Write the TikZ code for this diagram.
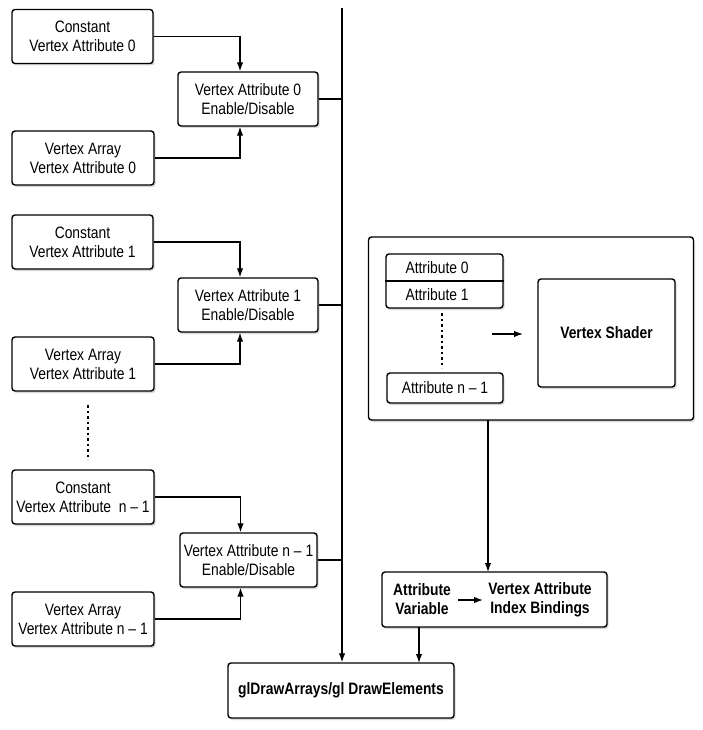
\documentclass[tikz,border=0pt]{standalone}
\usepackage{fontspec}
\setmainfont{Liberation Sans}[FakeStretch=0.84]
\usetikzlibrary{shadows,arrows.meta,calc}
\begin{document}
\begin{tikzpicture}[x=1pt,y=-1pt,
  every node/.style={font=\fontsize{16.5}{19}\selectfont},
  box/.style={draw, line width=1.4pt, rounded corners=3pt, fill=white, align=center, inner sep=0pt,
    drop shadow={opacity=0.3, shadow xshift=1.5pt, shadow yshift=-2pt}},
  conn/.style={line width=1.3pt},
  arr/.style={line width=1.3pt, -{Latex[length=9pt,width=6.5pt]}},
  dots/.style={line width=1.8pt, dash pattern=on 2.5pt off 3pt}]
\useasboundingbox (0,0) rectangle (703,730);
% left column
\node[box, minimum width=141, minimum height=54] (c0) at (82.5,36.5) {Constant\\Vertex Attribute 0};
\node[box, minimum width=140, minimum height=54] (e0) at (248,99) {Vertex Attribute 0\\Enable/Disable};
\node[box, minimum width=142, minimum height=54] (v0) at (83,158) {Vertex Array\\Vertex Attribute 0};
\node[box, minimum width=141, minimum height=54] (c1) at (82.5,242) {Constant\\Vertex Attribute 1};
\node[box, minimum width=140, minimum height=54] (e1) at (248,305) {Vertex Attribute 1\\Enable/Disable};
\node[box, minimum width=142, minimum height=54] (v1) at (83,364) {Vertex Array\\Vertex Attribute 1};
\node[box, minimum width=142, minimum height=54] (cn) at (83,497) {Constant\\Vertex Attribute\ \ n -- 1};
\node[box, minimum width=137, minimum height=54] (en) at (248.5,560) {Vertex Attribute n -- 1\\Enable/Disable};
\node[box, minimum width=142, minimum height=54] (vn) at (83,619) {Vertex Array\\Vertex Attribute n -- 1};
% bottom
\node[box, minimum width=226, minimum height=55, font=\fontsize{16.5}{19}\selectfont\bfseries] (gl) at (341,690.5) {glDrawArrays/gl DrawElements};
% right big box
\node[box, minimum width=325, minimum height=183] (big) at (531,328.5) {};
\node[box, minimum width=117, minimum height=54] (stack) at (444.5,281) {};
\draw[line width=1.4pt] (stack.west) -- (stack.east);
\node[anchor=west] (a0) at (402,268) {Attribute 0};
\node[anchor=west] (a1) at (402,295) {Attribute 1};
\node[box, minimum width=116, minimum height=30] (an) at (445,388) {Attribute n -- 1};
\node[box, minimum width=137, minimum height=108, font=\fontsize{16.5}{19}\selectfont\bfseries] (vs) at (606.5,333) {Vertex Shader};
\coordinate (ia) at (492,334);
\coordinate (ib) at (523,334);
\draw[arr] (ia) -- (ib);
\draw[dots] (442,313) -- (442,368);
% attribute variable box
\node[box, minimum width=225, minimum height=55] (av) at (494.5,599.5) {};
\node[font=\fontsize{16.5}{19}\selectfont\bfseries, align=center] (avl) at (422,599.5) {Attribute\\Variable};
\node[font=\fontsize{16.5}{19}\selectfont\bfseries, align=center] (avr) at (540,599.5) {Vertex Attribute\\Index Bindings};
\draw[arr] (458,600) -- (483,600);
% connectors left
\foreach \c/\e/\v in {c0/e0/v0, c1/e1/v1, cn/en/vn} {
  \draw[arr] (\c.east) -| ([xshift=-8pt]\e.north);
  \draw[arr] (\v.east) -| ([xshift=-8pt]\e.south);
}
\draw[dots] (88,405) -- (88,460);
% bus
\coordinate (bt) at (342,8);
\draw[arr] (bt) -- (bt |- gl.north);
\foreach \e in {e0,e1,en} \draw[conn] (\e.east) -- (\e.east -| bt);
% right verticals
\draw[arr] (488,420) -- (488,572);
\draw[arr] (419,627) -- (419,663);
\end{tikzpicture}
\end{document}
